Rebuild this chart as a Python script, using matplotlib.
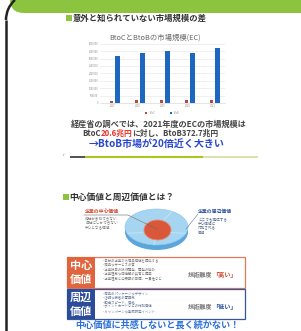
import matplotlib
matplotlib.use("Agg")
import matplotlib.pyplot as plt
from matplotlib.patches import FancyBboxPatch, Ellipse, Rectangle, Arc
import numpy as np

plt.rcParams['font.family'] = ['Noto Sans CJK JP', 'DejaVu Sans']

# ---- data ----
years = ['2017', '2018', '2019', '2020', '2021']
btoc = [165000, 180000, 194000, 193000, 207000]
btob = [3150000, 3400000, 3520000, 3340000, 3680000]
yticks = [0, 500000, 1000000, 1500000, 2000000, 2500000, 3000000, 3500000, 4000000]
series_names = ['BtoC', 'BtoB']

heading1 = '意外と知られていない市場規模の差'
chart_title = 'BtoCとBtoBの市場規模(EC)'
line1 = '経産省の調べでは、2021年度のECの市場規模は'
line2 = [('BtoC', '#444444'), ('20.6兆円', '#e8322a'), ('に対し、BtoB372.7兆円', '#444444')]
line3 = '→BtoB市場が20倍近く大きい'

heading2 = '中心価値と周辺価値とは？'
core_label = '企業の中心価値'
core_desc = ['他社がまねできない', '自社にしかできない', '中心となる価値']
peri_label = '企業の周辺価値'
peri_desc = ['どこでも提供する', '中心価値に', '付加される', '価値']
core_items = ['・自分の企業から商品価値を提供する', '・商品やサービスの質', '・企業独自の技術開発、開発の強み',
              '・企業理念や価値観の共有と提案', '・企業理念と中長期の目標、一貫性など']
peri_items = ['・商品のパッケージやデザイン', '・店舗や接客の雰囲気', '・配送スピード、価格',
              '・ポイントカードなどの付加価値', '・キャンペーンや季節限定イベント']
bottom_text = '中心価値に共感しないと長く続かない！'

W, H = 301, 331
fig = plt.figure(figsize=(W / 100, H / 100), dpi=100)
fig.patch.set_facecolor('white')
ax = fig.add_axes([0, 0, 1, 1])
ax.set_xlim(0, W)
ax.set_ylim(H, 0)
ax.axis('off')

# ---- header / frame ----
ax.add_patch(FancyBboxPatch((10, -40), 330, 53, boxstyle='round,pad=0,rounding_size=14',
                            facecolor='#8cc43f', edgecolor='none', zorder=1))
arc = Arc((33, 20), 54, 54, theta1=180, theta2=228, color='#222222', lw=1.8, zorder=3)
ax.add_patch(arc)
ax.plot([6, 6], [20, H + 2], color='#222222', lw=1.8, zorder=3, solid_capstyle='butt')

renderer = fig.canvas.get_renderer()


def seg_text(xc, y, segs, size, weight='normal'):
    objs = []
    for s, c in segs:
        objs.append(ax.text(0, y, s, color=c, fontsize=size, fontweight=weight, va='center', ha='left'))
    widths = []
    inv = ax.transData.inverted()
    for o in objs:
        bb = o.get_window_extent(renderer)
        widths.append(bb.width)
    total = sum(widths)
    x0_px = ax.transData.transform((xc, 0))[0] - total / 2
    cur = x0_px
    for o, w in zip(objs, widths):
        o.set_x(inv.transform((cur, 0))[0])
        cur += w


# ---- slide 1 ----
ax.add_patch(Rectangle((66, 15), 6, 6, facecolor='#8cc43f', edgecolor='none'))
ax.text(73, 18, heading1, fontsize=6.0, fontweight='bold', color='#333333', va='center', ha='left')
ax.text(155, 37.5, chart_title, fontsize=5.3, color='#666666', va='center', ha='center')

bx = fig.add_axes([100 / W, 1 - 103 / H, 125 / W, 59.3 / H])
x = np.arange(len(years))
bx.bar(x - 0.05, btoc, width=0.12, color='#b34a46', zorder=3)
bx.bar(x + 0.19, btob, width=0.19, color='#1d67be', zorder=3)
bx.set_xlim(-0.5, len(years) - 0.5)
bx.set_ylim(0, 4000000)
bx.set_yticks(yticks)
bx.set_yticklabels([str(v) for v in yticks])
bx.set_xticks(x)
bx.set_xticklabels(years)
bx.tick_params(axis='both', length=0, labelsize=1.8, labelcolor='#888888', pad=1)
bx.grid(axis='y', color='#e3e3e3', lw=0.4, zorder=0)
for sp in bx.spines.values():
    sp.set_visible(False)
bx.spines['bottom'].set_visible(True)
bx.spines['bottom'].set_color('#d0d0d0')
bx.spines['bottom'].set_linewidth(0.4)
bx.set_facecolor('none')
bx.legend(series_names, loc='upper center', bbox_to_anchor=(0.5, -0.1), ncol=2, fontsize=1.8,
          frameon=False, handlelength=0.8, columnspacing=6, labelcolor='#888888')

ax.text(159, 124, line1, fontsize=5.9, fontweight='bold', color='#444444', va='center', ha='center')
seg_text(150, 133.5, line2, 5.6, 'bold')
ax.text(157, 144, line3, fontsize=7.2, fontweight='bold', color='#2a47d0', va='center', ha='center')

# strip of next slide
ax.add_patch(Rectangle((70, 155.6), 15, 2, facecolor='#555555', edgecolor='none'))
ax.add_patch(Rectangle((85, 155.6), 118, 2, facecolor='#a8c818', edgecolor='none'))
ax.add_patch(Rectangle((203, 155.6), 55, 2, facecolor='#d8e4b0', edgecolor='none'))
ax.text(62, 155, 'ｒ', fontsize=3, color='#888888', va='center', ha='left')

# ---- slide 2 ----
ax.add_patch(Rectangle((63, 193.5), 6, 6, facecolor='#8cc43f', edgecolor='none'))
ax.text(69.5, 197, heading2, fontsize=6.3, fontweight='bold', color='#333333', va='center', ha='left')

# disk
ax.add_patch(Ellipse((156.5, 232), 63, 36, facecolor='#5aa6dc', edgecolor='none'))
ax.add_patch(Ellipse((156.5, 227), 63, 36, facecolor='#a6d5f1', edgecolor='#8cc6ea', lw=0.4))
for ang in [20, 95, 160, 215, 300]:
    a = np.deg2rad(ang)
    ax.plot([156.5 + 15 * np.cos(a), 156.5 + 31 * np.cos(a)],
            [229 + 11 * np.sin(a), 227 + 18 * np.sin(a)], color='#d8eefa', lw=0.4)
ax.add_patch(Ellipse((157.5, 230), 27, 20, facecolor='#d9573b', edgecolor='#e88a6e', lw=0.6))

ax.text(85, 211, core_label, fontsize=3.5, fontweight='bold', color='#d9442a', va='center', ha='left')
ax.plot([84, 128, 157], [215, 215, 229], color='#666666', lw=0.4)
for i, t in enumerate(core_desc):
    ax.text(85, 219 + 4.5 * i, t, fontsize=2.6, color='#777777', va='center', ha='left')
ax.text(198, 211, peri_label, fontsize=3.5, fontweight='bold', color='#2a4fa0', va='center', ha='left')
ax.plot([198, 186], [214, 229], color='#5577aa', lw=0.4)
for i, t in enumerate(peri_desc):
    ax.text(198, 220 + 4.3 * i, t, fontsize=2.6, color='#556688', va='center', ha='left')

# box 1
ax.add_patch(Rectangle((67, 257), 178, 31, facecolor='white', edgecolor='#e07a5c', lw=0.9))
ax.add_patch(Rectangle((67, 257), 28, 31, facecolor='#e0643c', edgecolor='none'))
ax.text(81, 265, '中心', fontsize=8, fontweight='bold', color='white', va='center', ha='center')
ax.text(81, 279, '価値', fontsize=8, fontweight='bold', color='white', va='center', ha='center')
for i, t in enumerate(core_items):
    ax.text(102, 261 + 4.5 * i, t, fontsize=2.4, color='#777777', va='center', ha='left')
seg_text(212, 274, [('技術難度', '#777777'), ('「高い」', '#d9442a')], 4.4, 'bold')

# box 2
ax.add_patch(Rectangle((67, 289), 178, 30, facecolor='white', edgecolor='#35559f', lw=0.9))
ax.add_patch(Rectangle((67, 289), 28, 30, facecolor='#2b4c9b', edgecolor='none'))
ax.text(81, 297, '周辺', fontsize=8, fontweight='bold', color='white', va='center', ha='center')
ax.text(81, 311, '価値', fontsize=8, fontweight='bold', color='white', va='center', ha='center')
for i, t in enumerate(peri_items):
    ax.text(102, 293 + 4.5 * i, t, fontsize=2.4, color='#667799', va='center', ha='left')
seg_text(212, 307, [('技術難度', '#777777'), ('「低い」', '#2a4fa0')], 4.4, 'bold')

ax.text(157, 325, bottom_text, fontsize=6.6, fontweight='bold', color='#2a70d8', va='center', ha='center')

fig.savefig('out.png', dpi=100, facecolor='white')
